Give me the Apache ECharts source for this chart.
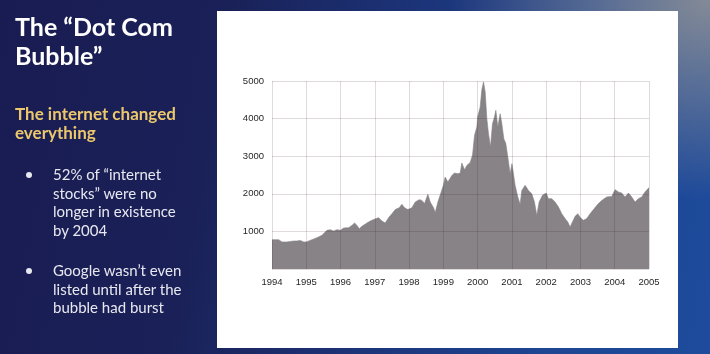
<!DOCTYPE html>
<html>
<head>
<meta charset="utf-8">
<script src="https://cdn.jsdelivr.net/npm/echarts@6/dist/echarts.min.js"></script>
<style>
  html, body { margin: 0; padding: 0; width: 710px; height: 354px; overflow: hidden; }
  body {
    position: relative;
    background:
      radial-gradient(ellipse 260px 200px at 100% 0%, rgba(150,150,150,0.85) 0%, rgba(150,150,150,0) 100%),
      linear-gradient(100deg, #191c52 0%, #1a2158 30%, #1c3479 55%, #1d4592 78%, #1e4b9c 100%);
    font-family: Lato, "Noto Sans", sans-serif;
  }
  .txt { position: absolute; left: 15px; white-space: nowrap; }
  #title { top: 12px; font-size: 25px; line-height: 29px; font-weight: 700; color: #ffffff; }
  #sub { top: 104px; font-size: 17px; line-height: 19px; font-weight: 700; color: #ecc76c; }
  .bul { left: 53px; font-size: 15px; line-height: 18.7px; color: #e8e8f0; }
  .dot { position: absolute; width: 6px; height: 6px; border-radius: 3px; background: #e8e8f0; left: 26px; }
  #panel { position: absolute; left: 217px; top: 11px; width: 461px; height: 337px; background: #ffffff; }
  #chart { position: absolute; left: 0; top: 0; width: 710px; height: 354px; }
</style>
</head>
<body>
<div id="panel"></div>
<div id="chart"></div>
<div class="txt" id="title">The “Dot Com<br>Bubble”</div>
<div class="txt" id="sub">The internet changed<br>everything</div>
<div class="dot" style="top:172px"></div>
<div class="txt bul" style="top:165px">52% of “internet<br>stocks” were no<br>longer in existence<br>by 2004</div>
<div class="dot" style="top:268px"></div>
<div class="txt bul" style="top:261px">Google wasn’t even<br>listed until after the<br>bubble had burst</div>
<script>
// NASDAQ-style index, x in years (decimal), y index level
const years = [1994, 1995, 1996, 1997, 1998, 1999, 2000, 2001, 2002, 2003, 2004, 2005];
const yTicks = [1000, 2000, 3000, 4000, 5000];
const dates = [
  1994.000, 1994.194, 1994.243, 1994.292, 1994.437, 1994.486, 1994.632, 1994.729, 1994.826, 1994.923,
  1995.000, 1995.166, 1995.312, 1995.458, 1995.603, 1995.701, 1995.798, 1995.895,
  1996.000, 1996.089, 1996.235, 1996.332, 1996.410, 1996.478, 1996.546, 1996.624, 1996.770, 1996.867,
  1997.000, 1997.110, 1997.207, 1997.304, 1997.401, 1997.499, 1997.596, 1997.712, 1997.790, 1997.868, 1997.965,
  1998.000, 1998.082, 1998.179, 1998.295, 1998.373, 1998.451, 1998.548, 1998.616, 1998.713, 1998.762, 1998.840, 1998.937,
  1999.000, 1999.053, 1999.131, 1999.248, 1999.326, 1999.423, 1999.491, 1999.539, 1999.617, 1999.685, 1999.782, 1999.850, 1999.910, 1999.977,
  2000.000, 2000.074, 2000.122, 2000.171, 2000.220, 2000.268, 2000.317, 2000.375, 2000.433, 2000.492, 2000.531, 2000.589, 2000.657, 2000.706, 2000.764, 2000.822, 2000.880, 2000.948,
  2001.000, 2001.045, 2001.094, 2001.172, 2001.240, 2001.289, 2001.386, 2001.483, 2001.580, 2001.658, 2001.726, 2001.794, 2001.891,
  2002.000, 2002.066, 2002.163, 2002.260, 2002.358, 2002.455, 2002.552, 2002.630, 2002.698, 2002.766, 2002.844, 2002.921,
  2003.000, 2003.086, 2003.184, 2003.281, 2003.378, 2003.504, 2003.621, 2003.767, 2003.913,
  2004.010, 2004.107, 2004.204, 2004.301, 2004.399, 2004.496, 2004.593, 2004.690, 2004.787, 2004.884, 2005.000
];
const values = [
  780, 780, 745, 720, 720, 695, 745, 745, 760, 720,
  720, 780, 833, 895, 1030, 1045, 1010, 1045,
  1030, 1090, 1100, 1160, 1225, 1160, 1070, 1135, 1225, 1275,
  1330, 1365, 1275, 1225, 1365, 1470, 1580, 1630, 1720, 1630, 1580,
  1545, 1630, 1780, 1845, 1825, 1740, 1985, 1780, 1630, 1500, 1780, 2050,
  2225, 2445, 2315, 2490, 2550, 2535, 2550, 2820, 2640, 2755, 2835, 3025, 3555, 3775,
  4040, 4310, 4770, 4975, 4710, 4000, 3600, 3245, 3865, 4040, 4220, 3775, 4130, 3865, 3465, 3335, 2980, 2535,
  2800, 2535, 2225, 1915, 1720, 2090, 2225, 2090, 2000, 1780, 1425, 1780, 1960,
  2020, 1870, 1870, 1780, 1650, 1470, 1340, 1250, 1115, 1250, 1400, 1470,
  1365, 1295, 1340, 1470, 1580, 1720, 1825, 1915, 1930,
  2110, 2050, 2020, 1915, 2020, 1915, 1780, 1870, 1915, 2050, 2165
];

const chart = echarts.init(document.getElementById('chart'), null, { renderer: 'canvas' });
const gridLine = { show: true, lineStyle: { color: 'rgba(40,15,30,0.15)', width: 1 } };
const lblFont = { fontFamily: 'Liberation Sans, Arial, sans-serif', fontSize: 9.5, color: '#262626' };
chart.setOption({
  backgroundColor: 'transparent',
  animation: false,
  grid: { left: 272, right: 61, top: 81, bottom: 85, containLabel: false },
  xAxis: {
    type: 'value', min: years[0], max: years[years.length - 1], interval: 1, z: 5,
    axisLine: { show: false }, axisTick: { show: false },
    splitLine: gridLine,
    axisLabel: Object.assign({ margin: 8, formatter: v => String(Math.round(v)) }, lblFont)
  },
  yAxis: {
    type: 'value', min: 0, max: yTicks[yTicks.length - 1], interval: 1000, z: 5,
    axisLine: { show: false }, axisTick: { show: false },
    splitLine: gridLine,
    axisLabel: Object.assign({ margin: 8, formatter: v => (v === 0 ? '' : String(v)) }, lblFont)
  },
  series: [{
    type: 'line', z: 2, symbol: 'none', smooth: false,
    lineStyle: { width: 0.6, color: '#888386' },
    areaStyle: { color: '#888386', opacity: 1 },
    data: dates.map((d, i) => [d, values[i]])
  }]
});
</script>
</body>
</html>
